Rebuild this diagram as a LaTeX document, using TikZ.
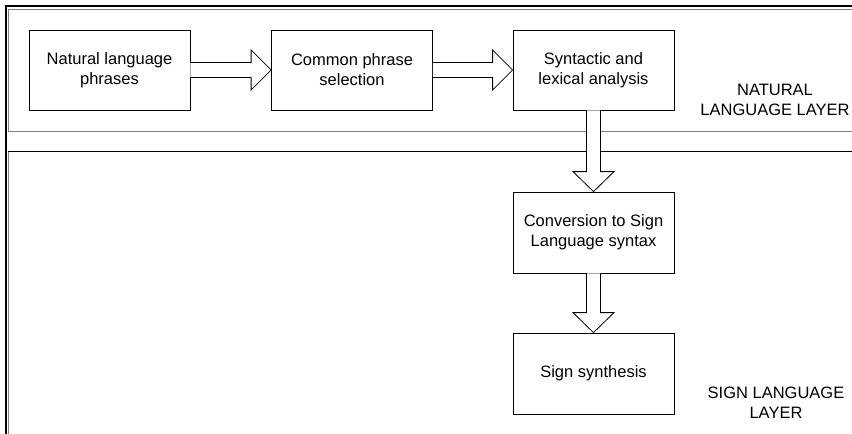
\documentclass[tikz,border=0pt]{standalone}
\usepackage{fontspec}
\setmainfont{Liberation Sans}
\usepackage{tikz}
\usetikzlibrary{calc}
\usetikzlibrary{positioning}
\tikzset{
    stepbox/.style = {rectangle, draw=black, line width=0.8pt, align=center, inner sep=0pt, minimum width=161pt, minimum height=80pt},
    layertext/.style = {align=center},
    hollow/.style = {draw=black, line width=0.8pt, fill=white, line join=miter},
}
% block arrows: shaft 15 wide, head 40 wide and 20 long
\newcommand{\hblock}[2]{%
  \draw[hollow] ($(#1.east)+(0,-7.5)$) -- ($(#2.west)+(-20,-7.5)$) -- ($(#2.west)+(-20,-20)$)
    -- (#2.west) -- ($(#2.west)+(-20,20)$) -- ($(#2.west)+(-20,7.5)$) -- ($(#1.east)+(0,7.5)$);}
\newcommand{\vblock}[2]{%
  \draw[hollow] ($(#1.south)+(-7,0)$) -- ($(#2.north)+(-7,-20)$) -- ($(#2.north)+(-20.5,-20)$)
    -- (#2.north) -- ($(#2.north)+(20.5,-20)$) -- ($(#2.north)+(7,-20)$) -- ($(#1.south)+(7,0)$);}

\begin{document}
\begin{tikzpicture}[
	x=1pt, y=-1pt,
	font=\fontsize{16.5}{20}\selectfont
]
\useasboundingbox (0,0) rectangle (852,434);
% layers
\draw[line width=2.5pt] (6,434) -- (6,6) -- (852,6);
\draw[gray, line width=1pt] (852,9.5) -- (8.5,9.5) -- (8.5,131) -- (852,131);
\draw[gray, line width=1pt] (8.5,151.5) -- (8.5,434);
\draw[black, line width=0.8pt] (8,151.5) -- (852,151.5);
\node[layertext] at (775,100) (nll) {NATURAL\\LANGUAGE LAYER};
\node[layertext] at (776,403) (sll) {SIGN LANGUAGE\\LAYER};
%
\node[stepbox] at (109.5,70) (a) {Natural language\\phrases};
\node[stepbox] at (352,70) (b) {Common phrase\\selection};
\node[stepbox] at (593.5,70) (c) {Syntactic and\\lexical analysis};
\node[stepbox, minimum height=81pt] at (593.5,232.5) (d) {Conversion to Sign\\Language syntax};
\node[stepbox, minimum height=81pt] at (593.5,373.5) (e) {Sign synthesis};
%
\hblock{a}{b}
\hblock{b}{c}
\vblock{c}{d}
\vblock{d}{e}
\end{tikzpicture}
\end{document}
